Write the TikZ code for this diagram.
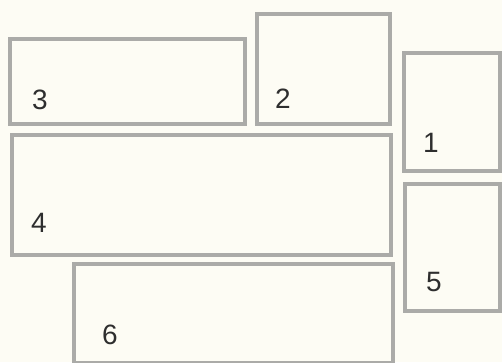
\documentclass[tikz,border=0pt]{standalone}
\usepackage{fontspec}
\setmainfont{Liberation Sans}
\usepackage{xcolor}
\usepackage{tikz}
\definecolor{paper}{HTML}{FDFCF4}
\definecolor{frame}{HTML}{ABABA8}
\definecolor{ink}{HTML}{2E2E2E}

\begin{document}
\begin{tikzpicture}[
  x=1pt, y=-1pt,
  box/.style={rectangle, draw=frame, line width=4.5pt, fill=none,
    minimum width=#1, inner sep=0pt, outer sep=0pt},
  num/.style={font=\fontsize{28}{28}\selectfont, text=ink, inner sep=0pt}
]

\useasboundingbox (0,0) rectangle (502,362);
\fill[paper] (0,0) rectangle (502,362);
\clip (0,0) rectangle (502,362);

\node[box=235pt, minimum height=85pt] (box3) at (127.5,81.5) {};
\node[box=133pt, minimum height=110pt] (box2) at (323.5,69) {};
\node[box=96pt, minimum height=118pt] (box1) at (452,112) {};
\node[box=379pt, minimum height=120pt] (box4) at (201.5,195) {};
\node[box=95pt, minimum height=127pt] (box5) at (452.5,247.5) {};
\node[box=319pt, minimum height=99pt] (box6) at (233.5,313.5) {};

\node[num] (lab3) at (40,100) {3};
\node[num] (lab2) at (283,99) {2};
\node[num] (lab1) at (431,143) {1};
\node[num] (lab4) at (39,223) {4};
\node[num] (lab5) at (434,282) {5};
\node[num] (lab6) at (110,335) {6};

\end{tikzpicture}
\end{document}
